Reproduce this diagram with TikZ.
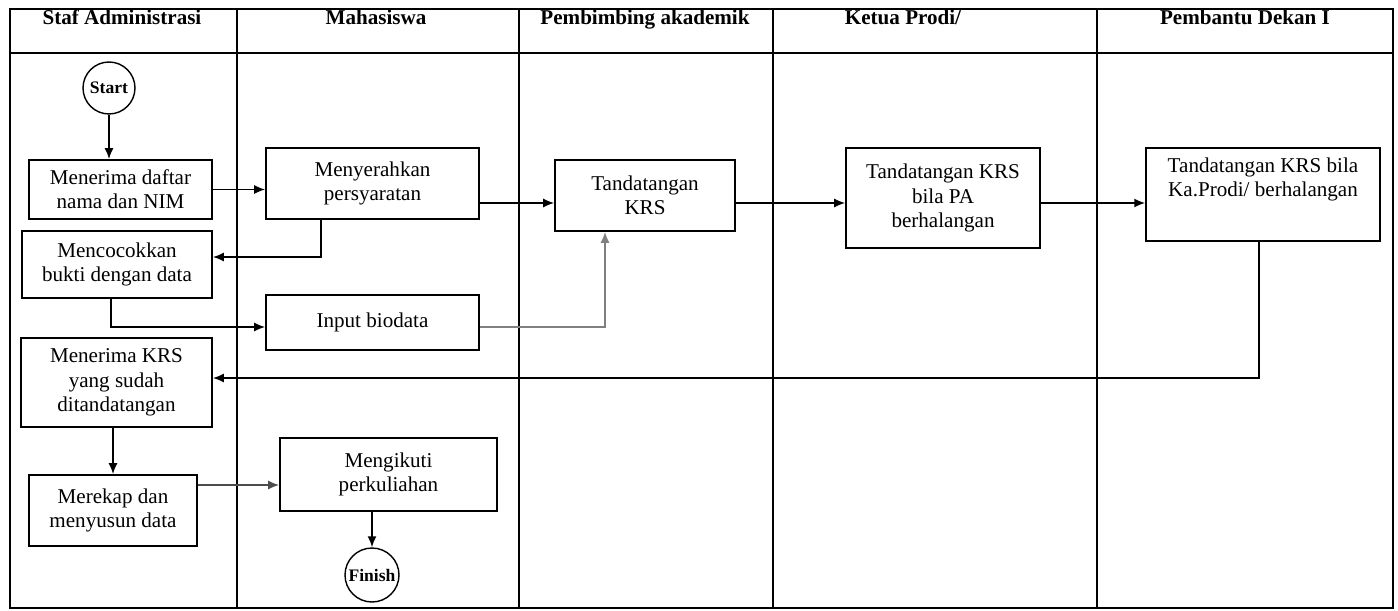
\documentclass[12pt,tikz,border=0pt]{standalone}
\usepackage{fontspec}
\setmainfont{Liberation Serif}
\usetikzlibrary{arrows.meta}

\tikzset{
  proses/.style={draw, line width=0.9pt, align=center, inner sep=2pt,
    font=\fontsize{12}{13.8}\selectfont},
  terminal/.style={draw, circle, line width=0.8pt, inner sep=0pt,
    font=\footnotesize\bfseries},
  judul/.style={anchor=base, font=\bfseries},
  panah/.style={line width=1pt, -{Latex[length=2.2mm,width=1.8mm]}},
  garis/.style={line width=0.7pt}
}

\begin{document}
\begin{tikzpicture}[x=0.02cm, y=-0.02cm]
      \useasboundingbox (0,0) rectangle (1398,611);

      % Bingkai dan jalur
      \draw[garis] (10,9) rectangle (1393,608);
      \draw[garis] (10,53) -- (1393,53);
      \draw[garis] (237,9) -- (237,608);
      \draw[garis] (519,9) -- (519,608);
      \draw[garis] (773,9) -- (773,608);
      \draw[garis] (1097,9) -- (1097,608);

      % Judul jalur
      \node[judul] (hStaf) at (122,25) {Staf Administrasi};
      \node[judul] (hMhs) at (376,25) {Mahasiswa};
      \node[judul] (hPa) at (645,25) {Pembimbing akademik};
      \node[judul] (hKaprodi) at (903,25) {Ketua Prodi/};
      \node[judul] (hPd) at (1245,25) {Pembantu Dekan I};

      % Proses
      \node[terminal, minimum size=1.04cm] (start) at (109,88) {Start};
      \node[proses, minimum width=3.66cm, minimum height=1.18cm] (terima) at (120.5,189.5)
        {Menerima daftar\\nama dan NIM};
      \node[proses, minimum width=4.26cm, minimum height=1.42cm] (serah) at (372.5,183.5)
        {Menyerahkan\\persyaratan};
      \node[proses, minimum width=3.80cm, minimum height=1.34cm] (cocok) at (117,264.5)
        {Mencocokkan\\bukti dengan data};
      \node[proses, minimum width=4.26cm, minimum height=1.10cm] (input) at (372.5,322.5)
        {Input biodata};
      \node[proses, minimum width=3.60cm, minimum height=1.42cm] (ttd) at (645,195.5)
        {Tandatangan\\KRS};
      \node[proses, minimum width=3.88cm, minimum height=2.00cm] (kaprodi) at (943,198)
        {Tandatangan KRS\\bila PA\\berhalangan};
      \node[proses, minimum width=4.68cm, minimum height=1.86cm] (pd1) at (1263,194.5)
        {Tandatangan KRS bila\\Ka.Prodi/ berhalangan\\[6pt]\mbox{}};
      \node[proses, minimum width=3.82cm, minimum height=1.78cm] (terimakrs) at (116.5,382.5)
        {Menerima KRS\\yang sudah\\ditandatangan};
      \node[proses, minimum width=3.36cm, minimum height=1.42cm] (rekap) at (113,510.5)
        {Merekap dan\\menyusun data};
      \node[proses, minimum width=4.34cm, minimum height=1.46cm] (ikuti) at (388.5,474.5)
        {Mengikuti\\perkuliahan};
      \node[terminal, minimum size=1.08cm] (finish) at (372,575) {Finish};

      % Titik belok
      \coordinate (jalur) at (0,203);
      \coordinate (b1) at (321,257);
      \coordinate (b2) at (111,327);
      \coordinate (b3) at (605,327);
      \coordinate (b4) at (1259,378);
      \coordinate (b5) at (0,485);

      % Alur
      \draw[panah] (start.south) -- (start.south |- terima.north);
      \draw[panah] (terima.east) -- (terima.east -| serah.west);
      \draw[panah] (serah.east |- jalur) -- (ttd.west |- jalur);
      \draw[panah] (ttd.east |- jalur) -- (kaprodi.west |- jalur);
      \draw[panah] (kaprodi.east |- jalur) -- (pd1.west |- jalur);
      \draw[panah] (serah.south -| b1) |- (cocok.east |- b1);
      \draw[panah] (cocok.south -| b2) |- (input.west |- b2);
      \draw[panah, gray] (input.east |- b3) -| (ttd.south -| b3);
      \draw[panah] (pd1.south -| b4) |- (terimakrs.east |- b4);
      \draw[panah] (rekap.north |- terimakrs.south) -- (rekap.north);
      \draw[panah, black!70] (rekap.east |- b5) -- (ikuti.west |- b5);
      \draw[panah] (ikuti.south -| finish.north) -- (finish.north);
\end{tikzpicture}
\end{document}
